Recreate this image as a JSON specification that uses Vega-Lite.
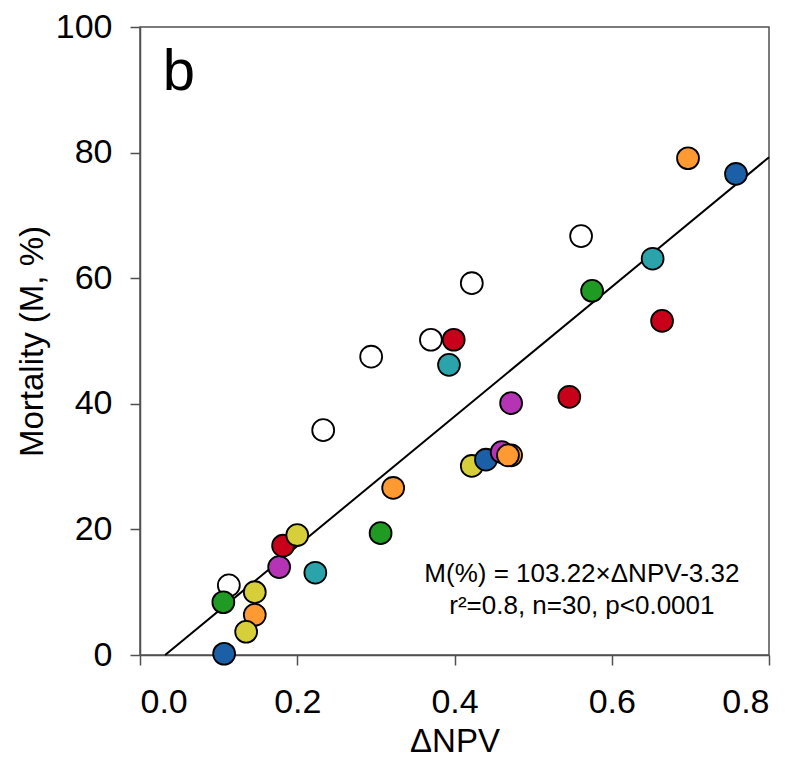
{
  "$schema": "https://vega.github.io/schema/vega-lite/v6.json",
  "width": 629,
  "height": 628,
  "autosize": "none",
  "padding": {"left": 140, "top": 27, "right": 29, "bottom": 110},
  "background": "white",
  "config": {
    "font": "Liberation Sans",
    "view": {"stroke": "#505050", "strokeWidth": 1.5},
    "axis": {
      "grid": false,
      "domainColor": "#505050",
      "domainWidth": 1.5,
      "tickColor": "#505050",
      "tickWidth": 1.5,
      "tickSize": 10,
      "labelFont": "Liberation Sans",
      "labelFontSize": 34,
      "labelColor": "#000000",
      "titleFont": "Liberation Sans",
      "titleFontSize": 33,
      "titleFontWeight": "normal",
      "titleColor": "#000000"
    }
  },
  "datasets": {
    "pts": [
      {"npv": 0.113, "m": 11.1, "g": "white"},
      {"npv": 0.106, "m": 8.4, "g": "green"},
      {"npv": 0.107, "m": 0.2, "g": "blue"},
      {"npv": 0.146, "m": 10.0, "g": "yellow"},
      {"npv": 0.146, "m": 6.4, "g": "orange"},
      {"npv": 0.135, "m": 3.7, "g": "yellow"},
      {"npv": 0.177, "m": 14.0, "g": "magenta"},
      {"npv": 0.182, "m": 17.4, "g": "red"},
      {"npv": 0.200, "m": 19.1, "g": "yellow"},
      {"npv": 0.223, "m": 13.1, "g": "teal"},
      {"npv": 0.233, "m": 35.8, "g": "white"},
      {"npv": 0.294, "m": 47.5, "g": "white"},
      {"npv": 0.306, "m": 19.4, "g": "green"},
      {"npv": 0.322, "m": 26.6, "g": "orange"},
      {"npv": 0.370, "m": 50.2, "g": "white"},
      {"npv": 0.399, "m": 50.2, "g": "red"},
      {"npv": 0.393, "m": 46.2, "g": "teal"},
      {"npv": 0.422, "m": 59.2, "g": "white"},
      {"npv": 0.422, "m": 30.1, "g": "yellow"},
      {"npv": 0.440, "m": 31.1, "g": "blue"},
      {"npv": 0.460, "m": 32.3, "g": "magenta"},
      {"npv": 0.472, "m": 31.8, "g": "orange"},
      {"npv": 0.468, "m": 31.8, "g": "orange"},
      {"npv": 0.472, "m": 40.1, "g": "magenta"},
      {"npv": 0.546, "m": 41.1, "g": "red"},
      {"npv": 0.561, "m": 66.7, "g": "white"},
      {"npv": 0.575, "m": 58.0, "g": "green"},
      {"npv": 0.664, "m": 53.2, "g": "red"},
      {"npv": 0.652, "m": 63.1, "g": "teal"},
      {"npv": 0.697, "m": 79.1, "g": "orange"},
      {"npv": 0.758, "m": 76.6, "g": "blue"}
    ],
    "fit": [
      {"npv": 0.032, "m": 0},
      {"npv": 0.8, "m": 79.26}
    ],
    "labels": [
      {"npv": 0.029, "m": 90.0, "t": "b"}
    ],
    "eq": [
      {"npv": 0.562, "m": 11.6, "t": "M(%) = 103.22×ΔNPV-3.32"},
      {"npv": 0.562, "m": 6.6, "t": "r²=0.8, n=30, p<0.0001"}
    ]
  },
  "layer": [
    {
      "data": {"name": "fit"},
      "mark": {"type": "line", "color": "#000000", "strokeWidth": 2},
      "encoding": {
        "x": {"field": "npv", "type": "quantitative", "scale": {"domain": [0, 0.8], "nice": false},
              "axis": {"title": "ΔNPV", "values": [0, 0.2, 0.4, 0.6, 0.8], "format": ".1f", "labelPadding": 20, "titlePadding": 6}},
        "y": {"field": "m", "type": "quantitative", "scale": {"domain": [0, 100], "nice": false},
              "axis": {"title": "Mortality (M, %)", "values": [0, 20, 40, 60, 80, 100], "labelPadding": 18, "titlePadding": 6}}
      }
    },
    {
      "data": {"name": "pts"},
      "mark": {"type": "point", "filled": true, "shape": "circle", "size": 480, "stroke": "#000000", "strokeWidth": 1.8, "opacity": 1},
      "encoding": {
        "x": {"field": "npv", "type": "quantitative"},
        "y": {"field": "m", "type": "quantitative"},
        "fill": {"field": "g", "type": "nominal", "legend": null,
                 "scale": {"domain": ["white", "green", "blue", "yellow", "orange", "magenta", "red", "teal"],
                           "range": ["#ffffff", "#1f9a22", "#1b5fa6", "#d6cf3a", "#ff9a33", "#b534b5", "#c8001a", "#2ba3aa"]}}
      }
    },
    {
      "data": {"name": "labels"},
      "mark": {"type": "text", "align": "left", "baseline": "alphabetic", "fontSize": 58, "font": "Liberation Sans", "color": "#000000"},
      "encoding": {
        "x": {"field": "npv", "type": "quantitative"},
        "y": {"field": "m", "type": "quantitative"},
        "text": {"field": "t"}
      }
    },
    {
      "data": {"name": "eq"},
      "mark": {"type": "text", "align": "center", "baseline": "alphabetic", "fontSize": 26, "font": "Liberation Sans", "color": "#000000"},
      "encoding": {
        "x": {"field": "npv", "type": "quantitative"},
        "y": {"field": "m", "type": "quantitative"},
        "text": {"field": "t"}
      }
    }
  ]
}
